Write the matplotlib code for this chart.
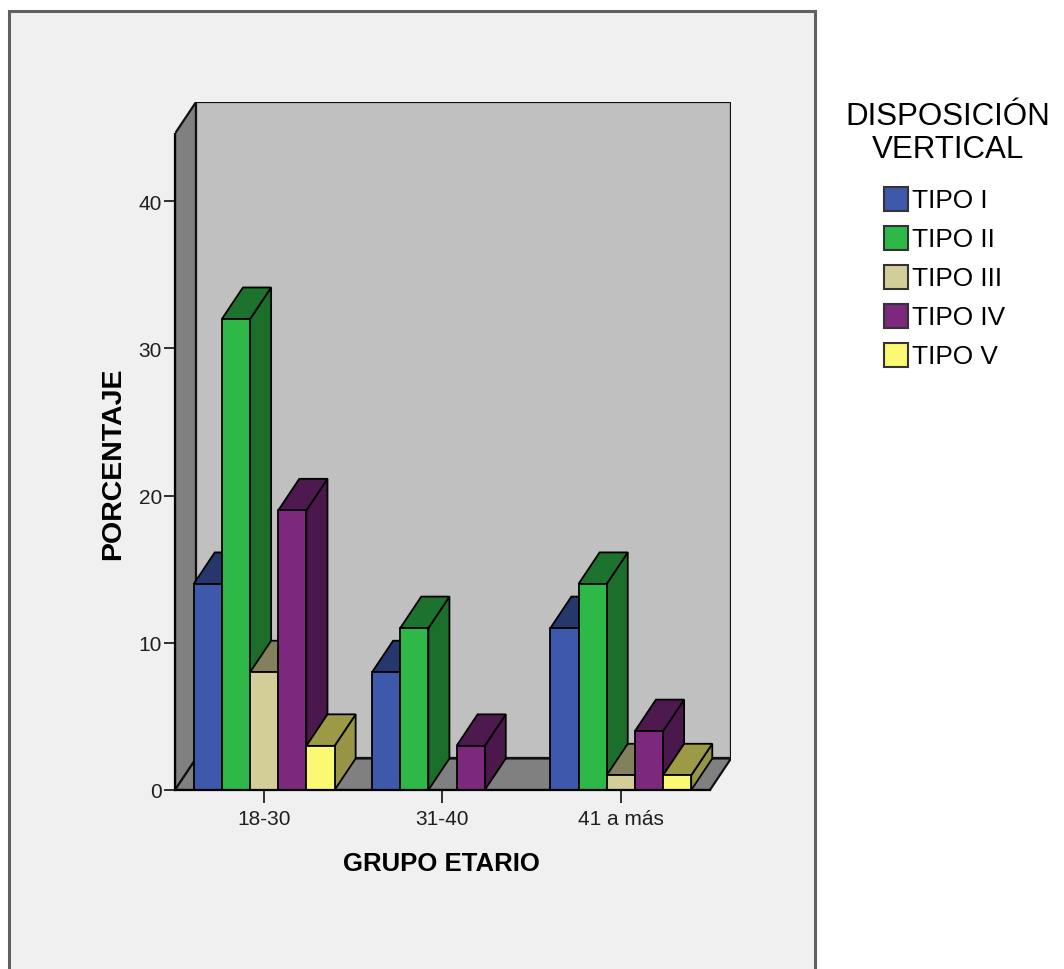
import matplotlib
matplotlib.use('Agg')
import matplotlib.pyplot as plt
from matplotlib.patches import Polygon, Rectangle
from matplotlib import font_manager
from matplotlib.colors import to_rgb

# Porcentaje por grupo etario y tipo de disposición vertical
groups = ['18-30', '31-40', '41 a más']
series = ['TIPO I', 'TIPO II', 'TIPO III', 'TIPO IV', 'TIPO V']
tipo_i = [14, 8, 11]
tipo_ii = [32, 11, 14]
tipo_iii = [8, 0, 1]
tipo_iv = [19, 3, 4]
tipo_v = [3, 0, 1]
colors = ['#3e58ac', '#2eb848', '#d3ce97', '#7c287d', '#fbf873']
y_ticks = [0, 10, 20, 30, 40]

values = [tipo_i, tipo_ii, tipo_iii, tipo_iv, tipo_v]

# narrow font for ticks and legend entries, if there is one
names = {f.name for f in font_manager.fontManager.ttflist}
if 'Liberation Sans Narrow' in names:
    narrow_family, narrow_scale = 'Liberation Sans Narrow', 1.0
else:
    narrow_family, narrow_scale = 'Liberation Sans', 0.86
plt.rcParams['font.family'] = ['Liberation Sans', 'DejaVu Sans']

W = 0.79 / 5      # bar width (group spacing = 1)
DX = 0.118        # depth offset along x
DY = 2.14         # depth offset along y
YTOP = 44.6       # height of the side wall


def shade(c, f=0.6):
    r, g, b = to_rgb(c)
    return (r * f, g * f, b * f)


fig = plt.figure(figsize=(10.64, 9.70), dpi=100)
fig.patch.set_facecolor('white')
H = 9.70


def px(x, y):
    # pixel position (from top-left) -> inches for dpi_scale_trans
    return (x / 100, H - y / 100)


# grey panel behind the chart
fig.add_artist(Rectangle(px(9, 985), 8.06, 9.73, transform=fig.dpi_scale_trans,
                         fc='#f0f0f0', ec='#606060', lw=2.2, zorder=-5))

ax = fig.add_axes([175 / 1064, 179 / 970, 556 / 1064, 688 / 970])
ax.set_xlim(-0.5, 2.5 + DX)
ax.set_ylim(0, YTOP + DY)
ax.patch.set_visible(False)

x0, x1 = -0.5, 2.5
edge = dict(ec='#111111', lw=1.6, joinstyle='miter')
ax.add_patch(Polygon([(x0, 0), (x0, YTOP), (x0 + DX, YTOP + DY), (x0 + DX, DY)],
                     fc='#808080', **edge))
ax.add_patch(Polygon([(x0 + DX, DY), (x0 + DX, YTOP + DY), (x1 + DX, YTOP + DY), (x1 + DX, DY)],
                     fc='#c0c0c0', **edge))
ax.add_patch(Polygon([(x0, 0), (x1, 0), (x1 + DX, DY), (x0 + DX, DY)],
                     fc='#808080', **edge))

# 3D bars, left to right so the front faces cover the neighbours' sides
bar_edge = dict(ec='black', lw=1.3, joinstyle='miter')
for g in range(len(groups)):
    for s in range(len(series)):
        v = values[s][g]
        if v <= 0:
            continue
        bx = g - 2.5 * W + s * W
        c = colors[s]
        ax.add_patch(Polygon([(bx + W, 0), (bx + W + DX, DY), (bx + W + DX, v + DY), (bx + W, v)],
                             fc=shade(c, 0.6), **bar_edge))
        ax.add_patch(Polygon([(bx, v), (bx + W, v), (bx + W + DX, v + DY), (bx + DX, v + DY)],
                             fc=shade(c, 0.62), **bar_edge))
        ax.add_patch(Rectangle((bx, 0), W, v, fc=c, **bar_edge))

for side in ['top', 'right']:
    ax.spines[side].set_visible(False)
ax.spines['left'].set_bounds(0, YTOP)
ax.spines['bottom'].set_bounds(x0, x1)
ax.spines['left'].set_linewidth(1.6)
ax.spines['bottom'].set_linewidth(1.6)

ax.set_yticks(y_ticks)
ax.set_xticks(range(len(groups)), groups)
ax.tick_params(axis='y', length=8, width=1.3, pad=1.5, color='#202020')
ax.tick_params(axis='x', length=9, width=1.3, pad=5, color='#202020')
for lab in ax.get_xticklabels() + ax.get_yticklabels():
    lab.set_family(narrow_family)
    lab.set_fontsize(17.5 * narrow_scale)
    lab.set_color('#202020')

fig.text(*px(113, 464), 'PORCENTAJE', transform=fig.dpi_scale_trans, rotation=90,
         ha='center', va='center', fontsize=20.5, fontweight='bold')
fig.text(*px(441, 864), 'GRUPO ETARIO', transform=fig.dpi_scale_trans,
         ha='center', va='center', fontsize=18.5, fontweight='bold')

# legend
fig.text(*px(948, 117), 'DISPOSICIÓN', transform=fig.dpi_scale_trans,
         ha='center', va='center', fontsize=22.5)
fig.text(*px(948, 150), 'VERTICAL', transform=fig.dpi_scale_trans,
         ha='center', va='center', fontsize=22.5)
for i, (name, c) in enumerate(zip(series, colors)):
    yc = 200 + 39 * i
    fig.add_artist(Rectangle(px(884, yc + 12), 0.24, 0.24, transform=fig.dpi_scale_trans,
                             fc=c, ec='#333333', lw=1.5))
    fig.text(*px(912, yc + 1), name, transform=fig.dpi_scale_trans,
             ha='left', va='center', fontsize=22 * narrow_scale, family=narrow_family)

fig.savefig('out.png', dpi=100)
